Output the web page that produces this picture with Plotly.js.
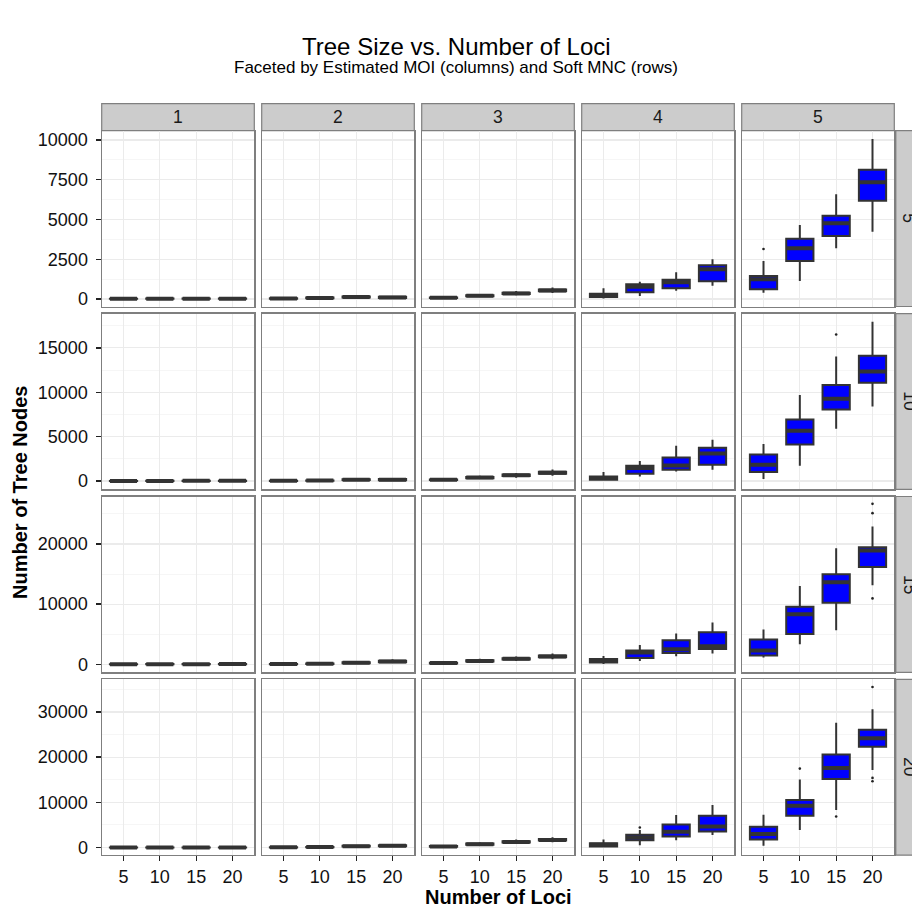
<!DOCTYPE html>
<html>
<head>
<meta charset="utf-8">
<script src="https://cdn.plot.ly/plotly-3.0.1.min.js"></script>
<style>
  html, body { margin: 0; padding: 0; background: #ffffff; }
  #chart { width: 912px; height: 907px; }
</style>
</head>
<body>
<div id="chart"></div>
<script>
// Facet levels
const lociLabels = ['5', '10', '15', '20'];
const moiLevels = ['1', '2', '3', '4', '5'];
const mncLevels = ['5', '10', '15', '20'];

// Box statistics per Soft MNC row; each row holds one array per MOI (1..5),
// and each array gives the value at loci 5, 10, 15, 20.
// --- Soft MNC = 5 ---
const lower_mnc5  = [[5, 6, 7, 8], [10, 30, 50, 30], [50, 130, 230, 380], [30, 189, 522, 837], [396, 1132, 3189, 4233]];
const q1_mnc5     = [[10, 12, 14, 15], [20, 50, 90, 70], [65, 175, 310, 480], [120, 421, 673, 1113], [610, 2390, 3963, 6183]];
const median_mnc5 = [[14, 17, 19, 21], [30, 70, 120, 100], [80, 200, 350, 530], [230, 774, 1050, 1868], [1239, 3189, 4762, 7340]];
const q3_mnc5     = [[20, 24, 28, 30], [40, 90, 150, 140], [100, 230, 390, 590], [330, 925, 1214, 2120], [1447, 3793, 5240, 8133]];
const upper_mnc5  = [[35, 45, 55, 60], [60, 130, 220, 200], [150, 320, 500, 720], [673, 1088, 1679, 2497], [2390, 4655, 6586, 10064]];

// --- Soft MNC = 10 ---
const lower_mnc10  = [[5, 6, 7, 8], [10, 25, 60, 50], [60, 200, 380, 600], [30, 518, 1081, 1272], [225, 1723, 5889, 8400]];
const q1_mnc10     = [[10, 13, 15, 17], [20, 45, 110, 100], [110, 330, 560, 820], [146, 822, 1272, 1835], [1013, 4121, 8062, 11069]];
const median_mnc10 = [[15, 20, 25, 28], [30, 60, 150, 150], [150, 400, 650, 950], [350, 1464, 1757, 3100], [1835, 5664, 9267, 12341]];
const q3_mnc10     = [[22, 27, 32, 36], [45, 80, 200, 230], [190, 460, 740, 1060], [518, 1723, 2657, 3750], [2995, 6936, 10810, 14109]];
const upper_mnc10  = [[35, 45, 55, 60], [80, 120, 290, 350], [260, 600, 900, 1300], [1013, 2252, 3975, 4650], [4166, 9684, 14030, 17937]];

// --- Soft MNC = 15 ---
const lower_mnc15  = [[5, 6, 7, 8], [10, 30, 100, 180], [80, 300, 550, 850], [50, 550, 1334, 1784], [1117, 3334, 5668, 13119]];
const q1_mnc15     = [[10, 13, 15, 18], [25, 60, 180, 330], [150, 450, 780, 1150], [283, 1050, 1884, 2550], [1450, 5051, 10219, 16170]];
const median_mnc15 = [[15, 20, 25, 30], [40, 90, 250, 450], [200, 550, 900, 1300], [560, 1950, 2500, 3000], [2284, 8335, 13619, 18900]];
const q3_mnc15     = [[22, 27, 32, 40], [60, 130, 330, 580], [260, 660, 1020, 1450], [884, 2284, 4000, 5334], [4117, 9552, 14953, 19454]];
const upper_mnc15  = [[35, 45, 55, 65], [100, 200, 480, 820], [380, 900, 1300, 1800], [1384, 3217, 5118, 6951], [5784, 13003, 19287, 22888]];

// --- Soft MNC = 20 ---
const lower_mnc20  = [[5, 6, 7, 8], [20, 40, 120, 150], [100, 400, 800, 1200], [50, 533, 1643, 2753], [377, 3863, 8303, 17183]];
const q1_mnc20     = [[10, 13, 15, 18], [40, 75, 230, 300], [190, 620, 1100, 1550], [222, 1643, 2442, 3552], [1776, 7037, 15185, 22289]];
const median_mnc20 = [[15, 20, 25, 30], [60, 100, 300, 400], [250, 750, 1250, 1700], [600, 2220, 3485, 4662], [2975, 9257, 17626, 24198]];
const q3_mnc20     = [[22, 27, 32, 40], [80, 130, 380, 520], [320, 880, 1420, 1880], [977, 2819, 5106, 7037], [4595, 10523, 20579, 26063]];
const upper_mnc20  = [[35, 45, 55, 65], [120, 190, 520, 700], [450, 1150, 1800, 2300], [1776, 3863, 7193, 9413], [7259, 15029, 27617, 30569]];

// Outlying points (MOI 5 and MOI 4 panels)
const outlierMnc = ['5', '10', '15', '15', '15', '20', '20', '20', '20', '20', '20'];
const outlierMoi = ['5', '5', '5', '5', '5', '4', '5', '5', '5', '5', '5'];
const outlierLoci = ['5', '15', '20', '20', '20', '10', '10', '15', '20', '20', '20'];
const outlierValue = [3145, 16507, 26672, 25122, 10952, 4440, 17471, 6882, 35520, 15407, 14652];

// Y tick spacing and visible range of each row
const rowTickStep = [2500, 5000, 10000, 10000];
const rowRange = [[-472, 10585], [-936, 18860], [-1333, 27890], [-1689, 37196]];

const stats = {
  lower: [lower_mnc5, lower_mnc10, lower_mnc15, lower_mnc20],
  q1: [q1_mnc5, q1_mnc10, q1_mnc15, q1_mnc20],
  median: [median_mnc5, median_mnc10, median_mnc15, median_mnc20],
  q3: [q3_mnc5, q3_mnc10, q3_mnc15, q3_mnc20],
  upper: [upper_mnc5, upper_mnc10, upper_mnc15, upper_mnc20]
};

// Panel geometry in pixels
const W = 912, H = 907;
const panelLeft0 = 101.7, panelW = 152.6, colStep = 160;
const panelTop0 = 130.7, panelH = 175.8, rowStep = 182.9;
const stripH = 27;

const font = 'Liberation Sans, Arial, Helvetica, sans-serif';
const ink = '#333333';
const frame = '#7F7F7F';

const traces = [];
const layout = {
  width: W, height: H,
  margin: {l: 0, r: 0, t: 0, b: 0},
  paper_bgcolor: '#ffffff',
  plot_bgcolor: '#ffffff',
  showlegend: false,
  font: {family: font, color: '#000000', size: 17},
  shapes: [],
  annotations: []
};

function axisId(r, c) {
  const n = r * 5 + c + 1;
  return n === 1 ? '' : String(n);
}

for (let r = 0; r < mncLevels.length; r++) {
  for (let c = 0; c < moiLevels.length; c++) {
    const id = axisId(r, c);
    const xa = 'x' + id, ya = 'y' + id;
    const x0 = (panelLeft0 + c * colStep) / W;
    const x1 = (panelLeft0 + c * colStep + panelW) / W;
    const yTop = panelTop0 + r * rowStep;
    const y1 = 1 - yTop / H;
    const y0 = 1 - (yTop + panelH) / H;

    layout['xaxis' + id] = {
      domain: [x0, x1],
      anchor: ya,
      type: 'category',
      categoryorder: 'array',
      categoryarray: lociLabels,
      range: [-0.6, 3.6],
      showgrid: true, gridcolor: '#EBEBEB', gridwidth: 1.2,
      zeroline: false,
      showline: true, mirror: true, linecolor: frame, linewidth: 1.2,
      ticks: r === 3 ? 'outside' : '',
      ticklen: 5, tickwidth: 1.3, tickcolor: '#222222',
      showticklabels: r === 3,
      tickfont: {family: font, size: 18, color: '#111111'},
      fixedrange: true
    };
    layout['yaxis' + id] = {
      domain: [y0, y1],
      anchor: xa,
      range: rowRange[r],
      tick0: 0, dtick: rowTickStep[r], tickformat: 'd',
      showgrid: true, gridcolor: '#EBEBEB', gridwidth: 1.2,
      minor: {tick0: 0, dtick: rowTickStep[r] / 2, showgrid: true, gridcolor: '#F6F6F6', gridwidth: 1},
      zeroline: false,
      showline: true, mirror: true, linecolor: frame, linewidth: 1.2,
      ticks: c === 0 ? 'outside' : '',
      ticklen: 5, tickwidth: 1.3, tickcolor: '#222222',
      ticklabelstandoff: 4,
      showticklabels: c === 0,
      tickfont: {family: font, size: 18, color: '#111111'},
      fixedrange: true
    };

    // Boxes for this panel
    traces.push({
      type: 'box',
      xaxis: xa, yaxis: ya,
      x: lociLabels,
      lowerfence: stats.lower[r][c],
      q1: stats.q1[r][c],
      median: stats.median[r][c],
      q3: stats.q3[r][c],
      upperfence: stats.upper[r][c],
      width: 0.75,
      whiskerwidth: 0,
      boxpoints: false,
      fillcolor: '#0000FF',
      line: {color: ink, width: 2},
      hoverinfo: 'skip'
    });
    // Heavier median bar, as in the boxplot style
    traces.push({
      type: 'scatter', mode: 'markers',
      xaxis: xa, yaxis: ya,
      x: lociLabels,
      y: stats.median[r][c],
      marker: {symbol: 'line-ew', size: 19.4, color: ink, line: {color: ink, width: 4}},
      hoverinfo: 'skip'
    });

    // Outlying points in this panel
    const ox = [], oy = [];
    for (let k = 0; k < outlierValue.length; k++) {
      if (outlierMnc[k] === mncLevels[r] && outlierMoi[k] === moiLevels[c]) {
        ox.push(outlierLoci[k]);
        oy.push(outlierValue[k]);
      }
    }
    if (ox.length) {
      traces.push({
        type: 'scatter', mode: 'markers',
        xaxis: xa, yaxis: ya,
        x: ox, y: oy,
        marker: {symbol: 'circle', size: 2.6, color: '#222222'},
        hoverinfo: 'skip'
      });
    }

    // Column strips along the top
    if (r === 0) {
      const sTop = 1 - (panelTop0 - stripH) / H;
      layout.shapes.push({
        type: 'rect', xref: 'paper', yref: 'paper',
        x0: x0, x1: x1, y0: y1, y1: sTop,
        fillcolor: '#CCCCCC', line: {color: frame, width: 1.2}, layer: 'below'
      });
      layout.annotations.push({
        xref: 'paper', yref: 'paper',
        x: (x0 + x1) / 2, y: (y1 + sTop) / 2,
        xanchor: 'center', yanchor: 'middle',
        text: moiLevels[c], showarrow: false,
        font: {family: font, size: 17.5, color: '#1A1A1A'}
      });
    }
    // Row strips along the right side
    if (c === moiLevels.length - 1) {
      const sx0 = (panelLeft0 + c * colStep + panelW + 1.5) / W;
      const sx1 = sx0 + stripH / W;
      layout.shapes.push({
        type: 'rect', xref: 'paper', yref: 'paper',
        x0: sx0, x1: sx1, y0: y0, y1: y1,
        fillcolor: '#CCCCCC', line: {color: frame, width: 1.2}, layer: 'below'
      });
      layout.annotations.push({
        xref: 'paper', yref: 'paper',
        x: (sx0 + sx1) / 2, y: (y0 + y1) / 2,
        xanchor: 'center', yanchor: 'middle',
        text: mncLevels[r], showarrow: false, textangle: 90,
        font: {family: font, size: 17.5, color: '#1A1A1A'}
      });
    }
  }
}

// Titles
layout.annotations.push(
  {xref: 'paper', yref: 'paper', x: 0.5, y: 1 - 46 / H, xanchor: 'center', yanchor: 'middle',
   text: 'Tree Size vs. Number of Loci', showarrow: false,
   font: {family: font, size: 24, color: '#000000'}},
  {xref: 'paper', yref: 'paper', x: 0.5, y: 1 - 67 / H, xanchor: 'center', yanchor: 'middle',
   text: 'Faceted by Estimated MOI (columns) and Soft MNC (rows)', showarrow: false,
   font: {family: font, size: 17, color: '#000000'}},
  {xref: 'paper', yref: 'paper', x: (panelLeft0 + (panelLeft0 + 4 * colStep + panelW)) / 2 / W, y: 1 - 897 / H,
   xanchor: 'center', yanchor: 'middle',
   text: '<b>Number of Loci</b>', showarrow: false,
   font: {family: font, size: 20, color: '#000000'}},
  {xref: 'paper', yref: 'paper', x: 20 / W, y: 1 - (panelTop0 + (3 * rowStep + panelH) / 2) / H,
   xanchor: 'center', yanchor: 'middle', textangle: -90,
   text: '<b>Number of Tree Nodes</b>', showarrow: false,
   font: {family: font, size: 20, color: '#000000'}}
);

Plotly.newPlot('chart', traces, layout, {displayModeBar: false, staticPlot: true});
</script>
</body>
</html>
